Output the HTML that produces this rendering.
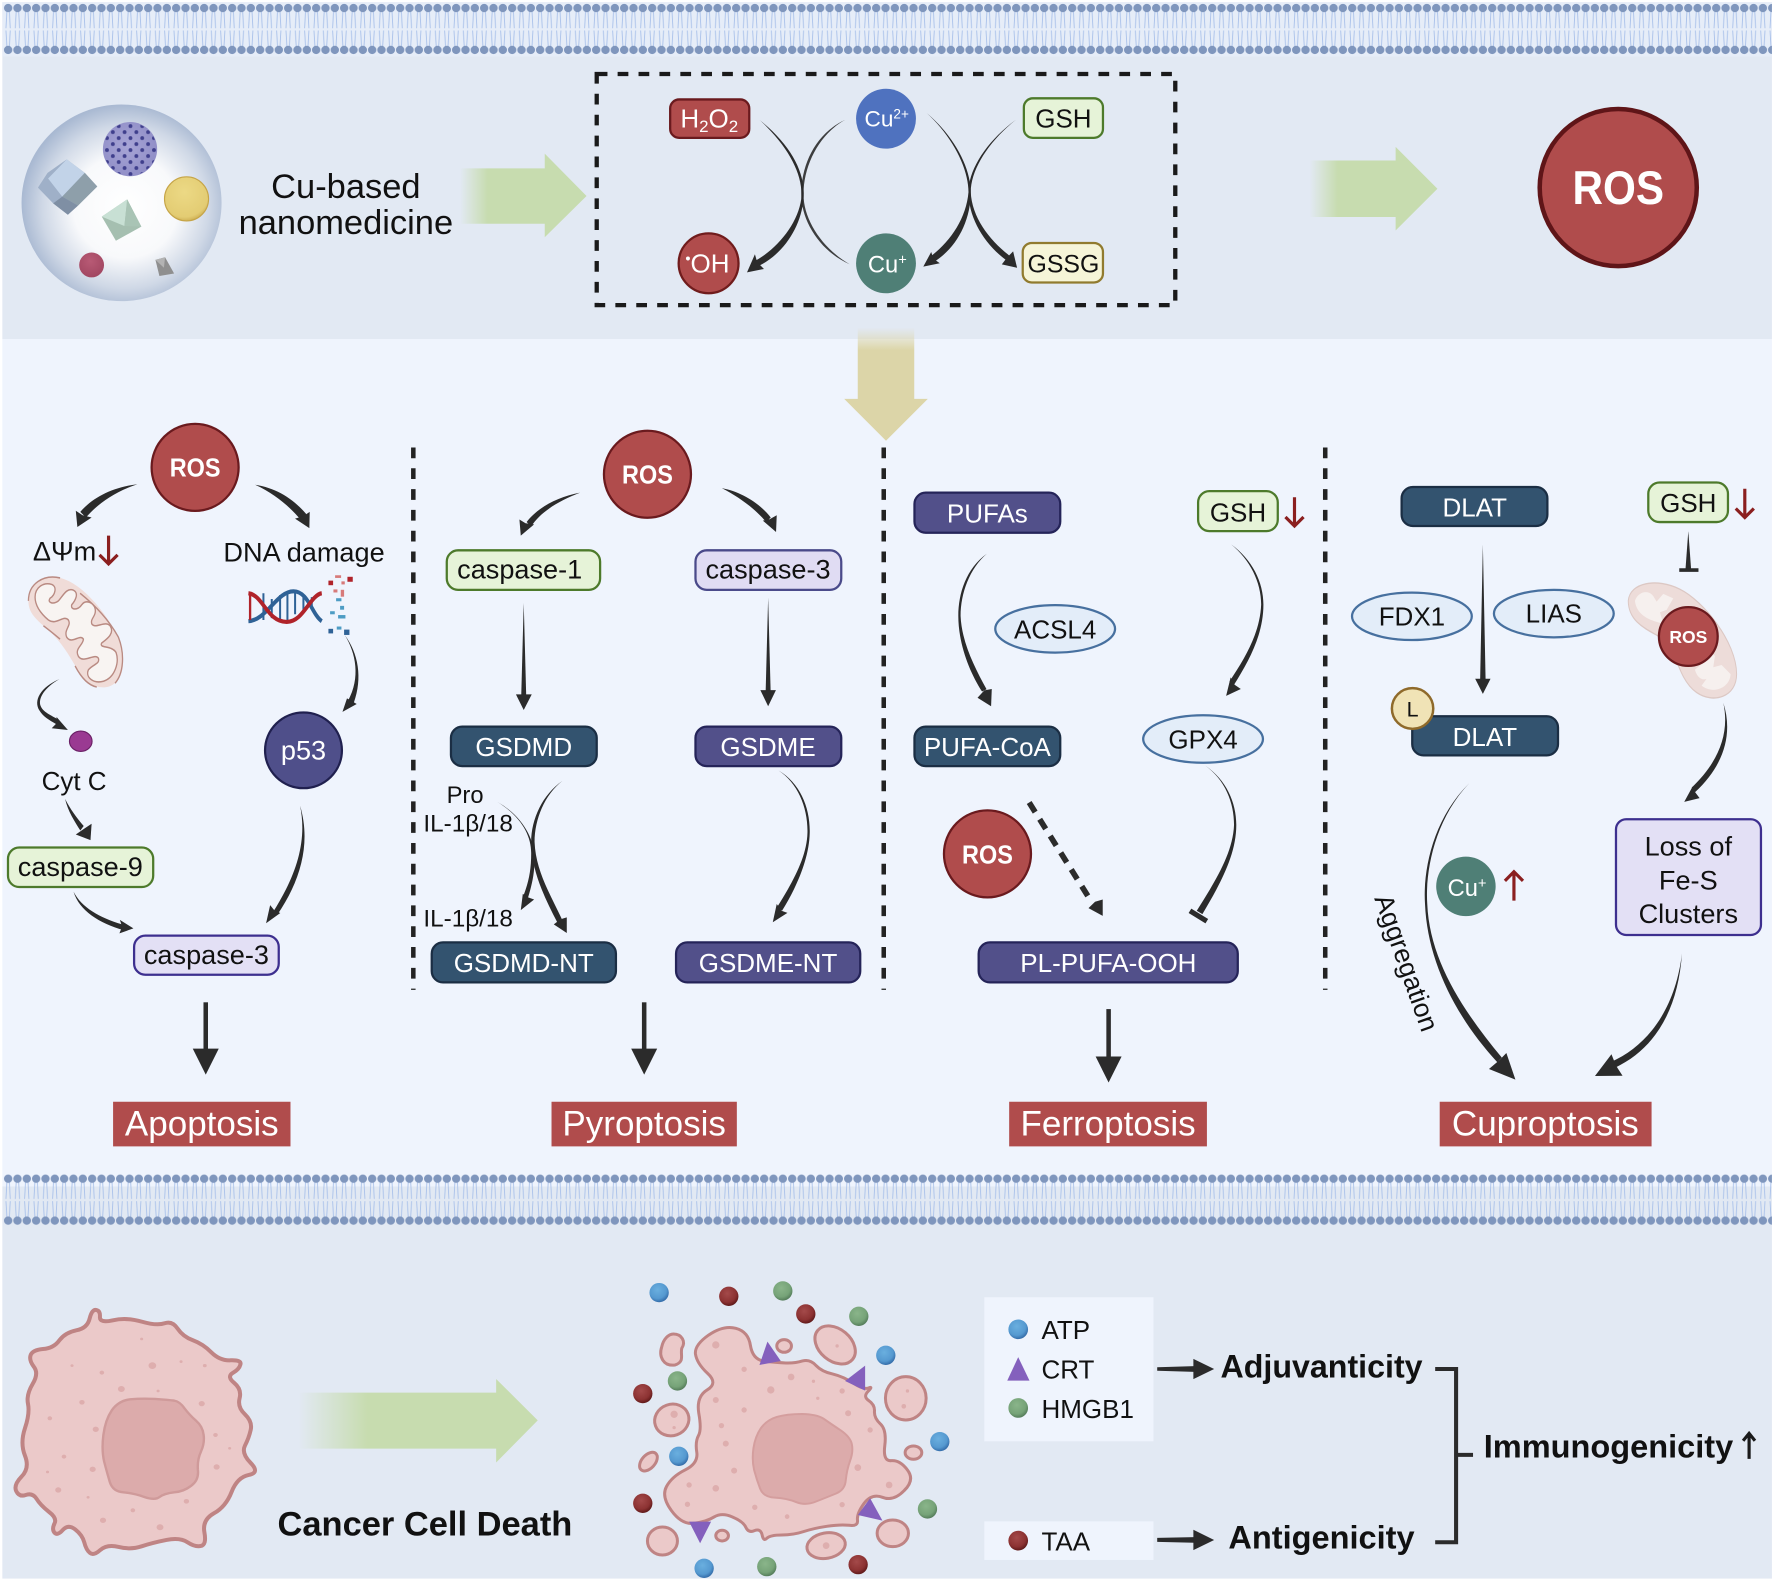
<!DOCTYPE html>
<html>
<head>
<meta charset="utf-8">
<style>
html,body{margin:0;padding:0;background:#fff}
svg{display:block}
text{font-family:"Liberation Sans",sans-serif;fill:#111}
.m{text-anchor:middle}
.w{fill:#fff}
.b{font-weight:bold}
.a{fill:#2b2b2b}
.red{stroke:#8b1f1f;stroke-width:2.8;fill:none}
.gr{fill:#e6f3d8;stroke:#4d7a2b;stroke-width:2}
.pu{fill:#e3e0f5;stroke:#3d2f8f;stroke-width:2}
.nv{fill:#33536f;stroke:#1b2e44;stroke-width:2}
.vi{fill:#52508a;stroke:#252459;stroke-width:2}
.el{fill:#e3edf9;stroke:#47709f;stroke-width:2}
.ro{fill:#b04c4c;stroke:#6a1a1e;stroke-width:2}
.lab{fill:#b04c4c}
.cell{fill:#ebc9c9;stroke:#bf8484}
.sp{fill:#deaeae}
</style>
</head>
<body>
<svg xmlns="http://www.w3.org/2000/svg" width="1772" height="1582" viewBox="0 0 1568 1400">
<defs>
<pattern id="mem" patternUnits="userSpaceOnUse" x="3" y="0" width="8.26" height="50">
<path d="M3,10 L2.2,25 M5.2,10 L6,25 M2.2,27 L3,41 M6,27 L5.2,41" stroke="#a9c1ea" stroke-width=".8" fill="none"/>
<circle cx="4.13" cy="7.1" r="3.7" fill="#7f96bd"/>
<circle cx="4.13" cy="44.2" r="3.7" fill="#7f96bd"/>
</pattern>
<pattern id="dots" patternUnits="userSpaceOnUse" x="92" y="109" width="10.4" height="10.6">
<circle cx="2.6" cy="2.6" r="1.7" fill="#3f3f8c"/>
<circle cx="7.8" cy="7.9" r="1.7" fill="#3f3f8c"/>
</pattern>
<radialGradient id="sph" cx=".52" cy=".52" r=".52">
<stop offset="0" stop-color="#fff"/><stop offset=".5" stop-color="#f8f9fb"/><stop offset=".8" stop-color="#cfd8e6"/><stop offset="1" stop-color="#a9b9d2"/>
</radialGradient>
<linearGradient id="ga1"><stop offset="0" stop-color="#c7dcaf" stop-opacity="0"/><stop offset=".22" stop-color="#c7dcaf"/></linearGradient>
<linearGradient id="ga3"><stop offset="0" stop-color="#c7dcaf" stop-opacity="0"/><stop offset=".29" stop-color="#c7dcaf"/></linearGradient>
<linearGradient id="ya" x1="0" y1="0" x2="0" y2="1"><stop offset="0" stop-color="#dcd5a8" stop-opacity="0"/><stop offset=".2" stop-color="#dcd5a8"/></linearGradient>
<radialGradient id="bB" cx=".42" cy=".35" r=".7"><stop offset="0" stop-color="#6aafdf"/><stop offset=".65" stop-color="#5599d0"/><stop offset="1" stop-color="#2c62a0"/></radialGradient>
<radialGradient id="bR" cx=".42" cy=".35" r=".7"><stop offset="0" stop-color="#a44a4a"/><stop offset=".65" stop-color="#8c3232"/><stop offset="1" stop-color="#551414"/></radialGradient>
<radialGradient id="bG" cx=".42" cy=".35" r=".7"><stop offset="0" stop-color="#8ab58a"/><stop offset=".65" stop-color="#76a378"/><stop offset="1" stop-color="#4d7453"/></radialGradient>
<radialGradient id="ye" cx=".45" cy=".35" r=".7"><stop offset="0" stop-color="#ecd985"/><stop offset=".8" stop-color="#e3cc73"/><stop offset="1" stop-color="#c6a548"/></radialGradient>
<radialGradient id="rb" cx=".45" cy=".35" r=".7"><stop offset="0" stop-color="#b85a75"/><stop offset="1" stop-color="#a04560"/></radialGradient>
<radialGradient id="pb" cx=".45" cy=".45" r=".6"><stop offset="0" stop-color="#a7a5d6"/><stop offset="1" stop-color="#8f8dc6"/></radialGradient>
</defs>

<!-- backgrounds -->
<rect x="0" y="0" width="1568" height="1400" fill="#fff"/>
<rect x="2" y="2" width="1566" height="298" fill="#e2e9f3"/>
<rect x="2" y="2" width="1566" height="48" fill="#e6edf8"/>
<rect x="2" y="300" width="1566" height="750" fill="#eff4fd"/>
<rect x="2" y="1050" width="1566" height="347" fill="#e2e9f3"/>
<rect x="3" y="0" width="1565" height="50" fill="url(#mem)"/>
<g transform="translate(0,1036)"><rect x="3" y="0" width="1565" height="50" fill="url(#mem)"/></g>

<!-- nanoparticle -->
<ellipse cx="107.5" cy="179.5" rx="88.5" ry="87" fill="url(#sph)"/>
<circle cx="115" cy="132" r="24" fill="url(#pb)"/>
<circle cx="115" cy="132" r="23.5" fill="url(#dots)"/>
<polygon points="59,141 75,153 86,165 60,190 47,180 33.5,166 42,153" fill="#9fb0c8"/>
<polygon points="59,141 75,153 55,174 42.5,158" fill="#c2d3e8"/>
<polygon points="75,153 86,165 69,182 55,174" fill="#8e9faa"/>
<polygon points="55,174 69,182 60,190 47,180" fill="#7f8fa4"/>
<polygon points="112.5,176.4 125,200.6 102.5,213 90,191.7" fill="#a5bfb0"/>
<polygon points="112.5,176.4 110,200 90,191.7" fill="#c8e0d4"/>
<polygon points="112.5,176.4 125,200.6 110,200" fill="#a9c4b5"/>
<ellipse cx="165" cy="176" rx="19.5" ry="19.5" fill="url(#ye)" stroke="#c6a548"/>
<circle cx="81" cy="234.5" r="11" fill="url(#rb)"/>
<polygon points="146,227.7 154,242 141,244.2 137.5,230" fill="#8f8f8f"/>
<polygon points="146,227.7 145,237 137.5,230" fill="#b3b3b3"/>

<text class="m" x="306" y="175" font-size="30.5">Cu-based</text>
<text class="m" x="306" y="207" font-size="30.5">nanomedicine</text>

<polygon points="407,149 482,149 482,136 519,173.5 482,210 482,198 407,198" fill="url(#ga1)"/>
<polygon points="1159,142 1235,142 1235,130 1272,167 1235,204 1235,192 1159,192" fill="url(#ga1)"/>

<!-- dashed box -->
<rect x="528" y="65.5" width="512" height="204.5" fill="none" stroke="#1a1a1a" stroke-width="3.8" stroke-dasharray="9.5 9"/>

<rect x="593" y="88" width="70" height="34" rx="8" class="ro"/>
<text x="602" y="113" font-size="23" class="w">H<tspan font-size="15" dy="4">2</tspan><tspan dy="-4">O</tspan><tspan font-size="15" dy="4">2</tspan></text>
<circle cx="784" cy="105" r="26.5" fill="#4f72bf"/>
<text x="765" y="112" font-size="20" class="w">Cu<tspan font-size="12" dy="-7">2+</tspan></text>
<rect x="906" y="87" width="70" height="35" rx="8" class="gr"/>
<text class="m" x="941" y="113" font-size="23">GSH</text>
<circle cx="627" cy="233" r="26.5" fill="#b04c4c" stroke="#701c1c" stroke-width="2"/>
<text class="m w" x="626" y="241" font-size="23"><tspan font-size="13" dy="-8">•</tspan><tspan dy="8">OH</tspan></text>
<circle cx="784" cy="233" r="26.5" fill="#4f7f76"/>
<text class="w" x="768" y="241" font-size="21">Cu<tspan font-size="13" dy="-7">+</tspan></text>
<rect x="905" y="215" width="71" height="35" rx="8" fill="#f6f5d8" stroke="#917b2e" stroke-width="2"/>
<text class="m" x="941" y="241" font-size="22">GSSG</text>

<path class="a" d="M672,106 C702,130 713,155 711,176 C709,200 694,224 672,235 L668,231 C688,220 706,198 709,176 C711,155 698,130 672,106Z"/>
<polygon class="a" points="661,241 676,238 670,232 668,225"/>
<path class="a" opacity=".9" d="M748,106 C722,118 709,145 709,172 C709,195 725,222 752,234 C728,220 711,195 711,172 C711,145 726,118 748,106Z"/>
<path class="a" d="M820,100 C846,122 859,150 859,170 C859,196 846,220 826,232 L822,228 C840,215 855,194 857,170 C857,150 844,122 820,100Z"/>
<polygon class="a" points="817,236 831.6,233 826,229 824,223"/>
<path class="a" d="M899,106 C873,125 857,150 857,170 C857,192 870,215 890,230 L893,226 C875,212 860,192 859,170 C859,150 875,125 899,106Z"/>
<polygon class="a" points="900,237 896.5,222.5 891,228 886.5,234"/>

<circle cx="1432" cy="166" r="69.5" fill="#b04c4c" stroke="#5f1518" stroke-width="4"/>
<text class="m w b" x="1432" y="180.5" font-size="42" textLength="81" lengthAdjust="spacingAndGlyphs">ROS</text>

<!-- yellow arrow -->
<polygon points="759,290 809,290 809,353 821,353 784,390 747,353 759,353" fill="url(#ya)"/>

<!-- dividers -->
<path d="M365.7,396 V876 M782,396 V876 M1172.7,396 V876" stroke="#222" stroke-width="4" stroke-dasharray="9.5 8.92" fill="none"/>

<!-- APOPTOSIS -->
<ellipse cx="172.6" cy="413.6" rx="38.5" ry="38.5" class="ro"/>
<text class="m w b" x="172.6" y="421.7" font-size="23" textLength="45" lengthAdjust="spacingAndGlyphs">ROS</text>
<path class="a" d="M121.5,428.5 C100,431 82,440 71,453 L76,458 C86,446 102,435 121.5,428.5Z"/>
<polygon class="a" points="68.4,466.4 67,452 73,456 81,458"/>
<path class="a" d="M225.7,429 C245,432 260,442 271,455 L266,460 C256,448 243,437 225.7,429Z"/>
<polygon class="a" points="273.7,467.4 274,453 268,457 261,459"/>
<text x="29" y="496" font-size="24">ΔΨm</text>
<path class="red" d="M96,474 V499 M88,491 L96,499 L104,491"/>
<text class="m" x="269" y="497" font-size="24">DNA damage</text>

<!-- mitochondrion -->
<g transform="translate(0,354) scale(.295,.3386)">
<path d="M85,525 C85,480 130,455 180,465 C250,480 320,560 355,620 C375,665 375,720 345,740 C310,765 260,745 235,710 C210,670 180,625 130,590 C105,570 85,555 85,525Z" fill="#f0dcd8"/>
<path d="M85,525 C85,480 130,455 180,465 M240,505 C290,540 330,580 355,620 C375,665 370,715 345,740 M290,750 C260,745 240,720 225,695 M180,625 C160,610 145,600 130,590" fill="none" stroke="#b98a82" stroke-width="4"/>
<path d="M105,515 C105,490 130,475 155,482 C172,488 165,510 150,518 C140,530 160,535 175,525 C190,510 200,490 220,497 C238,505 225,525 215,535 C210,550 235,550 245,535 C258,520 280,530 285,545 C290,565 270,570 275,585 C285,600 315,575 330,590 C345,610 320,625 305,635 C295,650 335,640 348,660 C358,685 345,725 310,735 C280,742 255,725 265,705 C280,690 300,690 295,675 C285,660 250,690 235,670 C222,650 250,640 250,625 C240,610 215,640 200,620 C190,600 215,590 205,575 C190,560 170,590 145,575 C125,560 105,540 105,515Z" fill="#f8f4f2" stroke="#b98a82" stroke-width="4"/>
</g>

<!-- DNA -->
<g transform="translate(0,354) scale(.295,.3386)">
<g stroke="#2f6296" stroke-width="6">
<path d="M790,505 V575 M815,520 V570 M840,510 V575 M862,505 V575 M885,500 V560 M910,510 V550 M935,515 V545"/>
</g>
<path d="M745,578 C800,575 830,500 880,500 C925,500 935,560 965,578" stroke="#2f6296" stroke-width="11" fill="none"/>
<path d="M745,505 C790,510 800,580 860,580 C910,580 930,510 965,505" stroke="#b0232a" stroke-width="11" fill="none"/>
<path d="M750,505 V575" stroke="#b0232a" stroke-width="7"/>
<g fill="#b0232a"><rect x="985" y="472" width="14" height="12"/><rect x="1042" y="462" width="16" height="13"/></g>
<g fill="#d77a7a"><rect x="1005" y="458" width="18" height="7"/><rect x="1024" y="474" width="10" height="8"/><rect x="1000" y="495" width="12" height="8"/><rect x="1022" y="496" width="10" height="18"/></g>
<g fill="#4d9cc4"><rect x="1008" y="518" width="16" height="8"/><rect x="1020" y="538" width="12" height="10"/><rect x="990" y="552" width="14" height="8"/><rect x="1014" y="562" width="22" height="9"/><rect x="1010" y="592" width="14" height="8"/></g>
<g fill="#2f6296"><rect x="985" y="598" width="14" height="12"/><rect x="1032" y="600" width="16" height="14"/></g>
</g>

<path class="a" d="M305,562 C315,578 319,600 308,620 L313,622 C321,600 317,578 305,562Z"/>
<polygon class="a" points="303,630 315.6,623 310.5,620 307,618"/>
<ellipse cx="268.5" cy="664" rx="34" ry="33.5" fill="#4f4f8a" stroke="#20204f" stroke-width="2"/>
<text class="m w" x="268.5" y="672" font-size="24">p53</text>
<path class="a" d="M52.5,601 C36,608 29,620 35,629 C38,634 43,637 50,641 L52,637 C45,633 38,630 36,625 C33,618 40,608 52.5,601Z"/>
<polygon class="a" points="60,646 50,634.5 50,640 45.7,644.5"/>
<ellipse cx="71.4" cy="656" rx="10" ry="9" fill="#9a3a92" stroke="#6a2066"/>
<text class="m" x="65.5" y="699" font-size="23">Cyt C</text>
<path class="a" d="M57.5,707 C60,718 66,727 71,735 L74,731 C68,724 62,716 57.5,707Z"/>
<polygon class="a" points="80,743.5 81,729 75,733 67,738.5"/>
<rect x="7" y="750" width="128.5" height="35" rx="10" class="gr"/>
<text class="m" x="71" y="775" font-size="24">caspase-9</text>
<path class="a" d="M65,789 C72,803 88,812 108,818 L109,823 C88,817 70,806 65,789Z"/>
<polygon class="a" points="118,821.6 106,814 108,820 105.6,826"/>
<rect x="118.6" y="828" width="128" height="34.6" rx="10" class="pu"/>
<text class="m" x="182.6" y="853" font-size="24">caspase-3</text>
<path class="a" d="M265.5,713 C272,745 262,775 241,808 L245,810 C267,778 275,745 265.5,713Z"/>
<polygon class="a" points="235.4,817 248,808 243,806 239,801"/>

<!-- PYROPTOSIS -->
<ellipse cx="572.9" cy="419.7" rx="38.5" ry="38.5" class="ro"/>
<text class="m w b" x="572.9" y="428" font-size="23" textLength="45" lengthAdjust="spacingAndGlyphs">ROS</text>
<path class="a" d="M513.3,436 C492,440 475,450 466,462 L470,466 C478,453 495,443 513.3,436Z"/>
<polygon class="a" points="460.8,474 459.6,459.7 465,463 472.6,464"/>
<path class="a" d="M638.7,432 C655,435 672,445 682,458 L678,462 C668,450 654,440 638.7,432Z"/>
<polygon class="a" points="686.7,470.8 687.3,456 681,459.5 675,460.7"/>
<rect x="395.3" y="487" width="135.7" height="35" rx="10" class="gr"/>
<text x="404.5" y="512" font-size="24">caspase-1</text>
<rect x="615.4" y="487" width="129" height="35" rx="10" fill="#e0dcf3" stroke="#4a4a8a" stroke-width="2"/>
<text class="m" x="679.6" y="512" font-size="24">caspase-3</text>
<path class="a" d="M463.4,533.5 L465.6,616 L461.2,616Z"/>
<polygon class="a" points="463.4,628.3 456.5,614.5 470.5,614.5"/>
<path class="a" d="M679.7,529 L681.9,612 L677.5,612Z"/>
<polygon class="a" points="679.7,625 672.8,610.7 686.6,610.7"/>
<rect x="399" y="643" width="129" height="35" rx="10" class="nv"/>
<text class="m w" x="463.4" y="669" font-size="23">GSDMD</text>
<rect x="615.4" y="643" width="129" height="35" rx="10" class="vi"/>
<text class="m w" x="679.6" y="669" font-size="23">GSDME</text>
<text class="m" x="411.5" y="710.5" font-size="21">Pro</text>
<text x="374.6" y="736" font-size="21.5">IL-1β/18</text>
<text x="374.6" y="820" font-size="21.5">IL-1β/18</text>
<path class="a" d="M440,709.6 C462,722 473,742 473,760 C473,775 470,785 467,795 L463,793 C468,780 470,770 470,755 C470,738 460,722 440,709.6Z"/>
<polygon class="a" points="460.8,805.4 472.6,796 467,794 462.6,791"/>
<path class="a" d="M497.7,691 C480,703 470,725 470,745 C470,770 482,795 493,816 L497,813 C486,790 474,770 473,745 C473,725 482,703 497.7,691Z"/>
<polygon class="a" points="501.5,825.7 501.5,811.8 496,813.5 490,818"/>
<path class="a" d="M688.8,681.8 C708,693 717,715 716.5,737 C716,760 705,785 692,806 L687.5,803 C702,780 714,758 714.5,737 C715,715 706,693 688.8,681.8Z"/>
<polygon class="a" points="683.8,816.2 696.8,807.8 691.5,806 687.3,800"/>
<rect x="382" y="834" width="163" height="35.4" rx="10" class="nv"/>
<text class="m w" x="463.4" y="860" font-size="23">GSDMD-NT</text>
<rect x="598.2" y="834" width="163" height="35.4" rx="10" class="vi"/>
<text class="m w" x="679.6" y="860" font-size="23">GSDME-NT</text>

<!-- FERROPTOSIS -->
<rect x="809.2" y="436" width="129" height="35.5" rx="10" class="vi"/>
<text class="m w" x="873.7" y="462.5" font-size="23">PUFAs</text>
<rect x="1060.2" y="434.6" width="70.5" height="35.4" rx="10" class="gr"/>
<text class="m" x="1095.5" y="461.5" font-size="23">GSH</text>
<path class="red" d="M1145.5,440 V465.5 M1137.5,457.5 L1145.5,465.5 L1153.5,457.5"/>
<path class="a" d="M873.2,490 C855,503 848,525 848,545 C848,570 858,595 869,612 L873,610 C862,590 851,568 850,545 C850,525 858,503 873.2,490Z"/>
<polygon class="a" points="877,625 877.6,609.7 871,611 865,617.5"/>
<ellipse cx="933.7" cy="556.5" rx="53" ry="21" class="el"/>
<text class="m" x="933.7" y="565" font-size="23">ACSL4</text>
<path class="a" d="M1089.4,481.7 C1108,495 1118,515 1118,535 C1118,562 1105,585 1092,606 L1088,603 C1102,582 1115,560 1116,535 C1116,515 1106,495 1089.4,481.7Z"/>
<polygon class="a" points="1085,615.8 1098,609.7 1092.5,606 1089,599.5"/>
<ellipse cx="1064.6" cy="654" rx="53" ry="21" class="el"/>
<text class="m" x="1064.6" y="662.5" font-size="23">GPX4</text>
<rect x="809.2" y="643" width="129" height="35" rx="10" class="nv"/>
<text class="m w" x="873.7" y="669" font-size="23">PUFA-CoA</text>
<ellipse cx="873.8" cy="755.6" rx="38.5" ry="38.5" class="ro"/>
<text class="m w b" x="873.8" y="764" font-size="23" textLength="45" lengthAdjust="spacingAndGlyphs">ROS</text>
<path d="M910.7,710.2 L964.6,796" stroke="#2b2b2b" stroke-width="5" stroke-dasharray="10 7.5" fill="none"/>
<polygon class="a" points="975.8,810.5 975.8,796 969,798 963.2,803.7"/>
<path class="a" d="M1066.4,677.4 C1085,690 1094,710 1094,730 C1094,758 1078,785 1064,809 L1059,806 C1074,782 1091,756 1092,730 C1092,710 1084,690 1066.4,677.4Z"/>
<path d="M1053,806 L1067.9,815.2" stroke="#2b2b2b" stroke-width="4.5"/>
<rect x="866" y="834" width="229.3" height="35.4" rx="10" class="vi"/>
<text class="m w" x="980.8" y="860" font-size="23">PL-PUFA-OOH</text>

<!-- CUPROPTOSIS -->
<rect x="1240.3" y="431" width="129" height="34.5" rx="10" class="nv"/>
<text class="m w" x="1305" y="457" font-size="23">DLAT</text>
<path class="a" d="M1312.2,482 L1314.6,601 L1309.8,601Z"/>
<polygon class="a" points="1312.2,614 1305.4,600.7 1319,600.7"/>
<ellipse cx="1249.4" cy="545.4" rx="53" ry="21" class="el"/>
<text class="m" x="1249.4" y="553.5" font-size="23">FDX1</text>
<ellipse cx="1375" cy="543" rx="53" ry="21" class="el"/>
<text class="m" x="1375" y="551" font-size="23">LIAS</text>
<rect x="1458.6" y="427" width="70.5" height="35" rx="10" class="gr"/>
<text class="m" x="1494" y="453" font-size="23">GSH</text>
<path class="red" d="M1544,432.5 V458 M1536,450 L1544,458 L1552,450"/>
<path class="a" d="M1494,470 L1496.5,504 L1491.5,504Z"/>
<path d="M1486,504.5 H1503" stroke="#2b2b2b" stroke-width="3.2"/>
<g transform="translate(1168,389.4) scale(.295,.4063)">
<path d="M925,350 C930,310 1010,300 1080,325 C1150,350 1250,440 1250,510 C1250,560 1180,575 1130,550 C1090,530 1075,490 1050,445 C1020,420 925,410 925,350Z" fill="#eddcd9" stroke="#dcc8c4" stroke-width="3"/>
<path d="M945,350 C955,330 985,325 1000,340 L1010,352 L1030,335 L1060,345 L1040,370 L1020,375 L1030,400 C1000,395 950,385 945,350Z M1125,500 L1150,485 L1160,460 L1185,470 L1180,495 L1205,490 L1232,510 C1230,540 1180,555 1145,535 L1160,520 C1145,525 1130,515 1125,500Z" fill="#f6f0ee"/>
</g>
<ellipse cx="1494" cy="563.3" rx="26" ry="26" class="ro"/>
<text class="m w b" x="1494" y="569" font-size="15.5">ROS</text>
<path class="a" d="M1525,622 C1531,650 1520,675 1497,697 L1500,701 C1525,678 1534,650 1525,622Z"/>
<polygon class="a" points="1490.4,709.6 1504,706.3 1500,701 1497.8,696"/>
<rect x="1430" y="725" width="128.3" height="102.4" rx="9" class="pu"/>
<text class="m" x="1494" y="757" font-size="24">Loss of</text>
<text class="m" x="1494" y="787" font-size="24">Fe-S</text>
<text class="m" x="1494" y="817" font-size="24">Clusters</text>
<rect x="1249.7" y="633.8" width="129" height="34.7" rx="10" class="nv"/>
<text class="m w" x="1314" y="660" font-size="23">DLAT</text>
<ellipse cx="1250" cy="627" rx="18.3" ry="18" fill="#f0e3b6" stroke="#8f6a2b" stroke-width="2.2"/>
<text class="m" x="1250" y="634" font-size="19">L</text>
<path class="a" d="M1300,693.3 C1270,725 1261,770 1263,800 C1265,850 1295,895 1329,936 L1325,940 C1288,900 1263,850 1261,800 C1259,770 1268,725 1300,693.3Z"/>
<polygon class="a" points="1341,955.4 1333,931.9 1327,938 1317.6,946"/>
<circle cx="1297.2" cy="784.4" r="26.3" fill="#4f7f76"/>
<text class="w" x="1281" y="793" font-size="21">Cu<tspan font-size="13" dy="-7">+</tspan></text>
<path class="red" d="M1339.7,797 V771.5 M1331.7,779.5 L1339.7,771.5 L1347.7,779.5"/>
<text transform="translate(1216,795) rotate(70.5)" font-size="23.5">Aggregation</text>
<path class="a" d="M1488.4,843.7 C1483,890 1460,925 1425,940 L1429,945 C1465,928 1485,893 1488.4,843.7Z"/>
<polygon class="a" points="1411.4,952.2 1426,933 1430,943 1435.8,952"/>

<!-- down arrows -->
<g class="a">
<rect x="180" y="887" width="4" height="42"/><polygon points="182,951 170.5,928 193.5,928"/>
<rect x="568" y="887" width="4" height="42"/><polygon points="570,951 558.5,928 581.5,928"/>
<rect x="979" y="893" width="4" height="42"/><polygon points="981,958 969.5,935 992.5,935"/>
</g>
<rect class="lab" x="100" y="975" width="157" height="39.5"/>
<text class="m w" x="178.5" y="1005" font-size="31">Apoptosis</text>
<rect class="lab" x="488" y="975" width="164" height="39.5"/>
<text class="m w" x="570" y="1005" font-size="31">Pyroptosis</text>
<rect class="lab" x="893" y="975" width="175" height="39.5"/>
<text class="m w" x="980.5" y="1005" font-size="31">Ferroptosis</text>
<rect class="lab" x="1274" y="975" width="187.5" height="39.5"/>
<text class="m w" x="1367.5" y="1005" font-size="31">Cuproptosis</text>

<!-- Bottom: intact cell -->
<g transform="translate(0,1026.5) scale(.3386,.295)">
<path class="cell" stroke-width="4" vector-effect="non-scaling-stroke" d="M234,476 Q240,448 251,450 Q262,452 261,471 Q260,490 295,481 Q330,472 370,485 Q410,498 430,490 Q450,482 464,506 Q478,530 504,541 Q530,552 552,577 Q575,603 603,601 Q632,600 628,614 Q625,628 608,639 Q592,650 612,669 Q632,688 626,715 Q620,742 640,763 Q660,785 655,810 Q650,835 640,857 Q630,880 655,909 Q680,938 650,945 Q620,952 605,996 Q590,1040 559,1060 Q528,1080 534,1117 Q540,1155 525,1158 Q510,1162 490,1147 Q470,1132 435,1140 Q400,1148 370,1159 Q340,1170 310,1161 Q280,1152 262,1170 Q245,1188 235,1179 Q225,1170 220,1147 Q215,1125 196,1108 Q178,1092 164,1110 Q150,1128 142,1118 Q135,1108 142,1091 Q150,1075 127,1055 Q105,1035 95,1016 Q85,998 67,1005 Q50,1012 42,993 Q35,975 56,950 Q78,925 65,887 Q52,850 65,805 Q78,760 73,732 Q68,705 85,672 Q102,640 88,620 Q75,600 80,585 Q85,570 112,567 Q140,565 155,541 Q170,518 199,511 Q228,505 234,476Z"/>
<path fill="#dcabab" stroke="#cf9a9a" stroke-width="2.4" vector-effect="non-scaling-stroke" d="M270,825 Q275,780 292,751 Q310,722 340,718 Q370,715 405,717 Q440,720 455,722 Q470,725 482,745 Q495,765 512,782 Q530,800 532,825 Q535,850 525,875 Q515,900 517,930 Q520,960 500,977 Q480,995 455,997 Q430,1000 417,1011 Q405,1022 377,1011 Q350,1000 322,997 Q295,995 287,967 Q280,940 272,905 Q265,870 270,825Z"/>
<g class="sp">
<circle cx="398" cy="617" r="10"/><circle cx="317" cy="687" r="9"/><circle cx="266" cy="638" r="6"/><circle cx="188" cy="617" r="4"/><circle cx="370" cy="537" r="4"/><circle cx="473" cy="605" r="4"/><circle cx="535" cy="617" r="5"/><circle cx="413" cy="693" r="4"/><circle cx="214" cy="727" r="7"/><circle cx="130" cy="775" r="6"/><circle cx="250" cy="808" r="8"/><circle cx="527" cy="731" r="8"/><circle cx="167" cy="890" r="6"/><circle cx="242" cy="928" r="8"/><circle cx="124" cy="936" r="4"/><circle cx="152" cy="990" r="8"/><circle cx="230" cy="1012" r="4"/><circle cx="347" cy="1051" r="6"/><circle cx="269" cy="1081" r="8"/><circle cx="418" cy="1102" r="9"/><circle cx="487" cy="1024" r="7"/><circle cx="566" cy="921" r="8"/><circle cx="600" cy="865" r="4"/><circle cx="563" cy="825" r="6"/>
</g>
</g>
<polygon points="264,1232.4 439,1232.4 439,1220.3 475.8,1257 439,1294.3 439,1282 264,1282" fill="url(#ga3)"/>
<text class="b" x="245.5" y="1359" font-size="30.5">Cancer Cell Death</text>

<!-- Dying cell -->
<g transform="translate(531,1115) scale(.295)">
<g class="cell" stroke-width="9">
<path d="M326,225 Q370,195 407,205 Q445,215 451,257 Q458,300 494,304 Q530,308 557,309 Q585,310 607,303 Q630,297 647,316 Q665,335 697,342 Q730,350 760,370 Q790,390 805,384 Q820,378 804,394 Q788,410 806,422 Q825,435 823,455 Q822,475 841,492 Q860,510 854,557 Q848,605 874,602 Q900,600 922,630 Q945,660 912,692 Q880,725 847,712 Q815,700 792,730 Q770,760 772,780 Q775,800 747,796 Q720,793 680,799 Q640,805 610,815 Q580,825 545,825 Q510,825 500,835 Q490,845 486,825 Q482,805 463,812 Q445,820 437,802 Q430,785 397,771 Q365,757 342,771 Q320,785 282,790 Q245,795 214,752 Q183,710 199,680 Q215,650 255,630 Q295,610 290,577 Q285,545 295,527 Q305,510 296,460 Q288,410 321,390 Q355,370 322,340 Q290,310 286,282 Q283,255 326,225Z"/>
<path d="M220,222 C245,222 258,245 245,265 C240,285 255,305 225,315 C190,320 175,290 185,260 C190,238 205,222 220,222Z"/>
<ellipse cx="552" cy="258" rx="22" ry="19"/>
<ellipse cx="705" cy="255" rx="68" ry="48" transform="rotate(40 705 255)"/>
<ellipse cx="917" cy="415" rx="61" ry="65"/>
<ellipse cx="215" cy="480" rx="52" ry="47" transform="rotate(-20 215 480)"/>
<ellipse cx="145" cy="605" rx="33" ry="20" transform="rotate(-48 145 605)"/>
<ellipse cx="940" cy="578" rx="25" ry="20"/>
<ellipse cx="187" cy="843" rx="45" ry="42"/>
<ellipse cx="366" cy="827" rx="19" ry="16"/>
<ellipse cx="678" cy="857" rx="58" ry="38" transform="rotate(-10 678 857)"/>
<ellipse cx="878" cy="820" rx="47" ry="40"/>
</g>
<path fill="#dcabab" stroke="#d49e9e" stroke-width="6" d="M460,565 Q465,530 482,505 Q500,480 530,471 Q560,462 605,462 Q650,463 670,476 Q690,490 720,510 Q750,530 755,552 Q760,575 750,602 Q740,630 737,660 Q735,690 707,701 Q680,712 647,725 Q615,738 587,726 Q560,715 525,713 Q490,712 480,686 Q470,660 462,630 Q455,600 460,565Z"/>
<g class="sp">
<circle cx="347" cy="255" r="11"/><circle cx="432" cy="328" r="8"/><circle cx="573" cy="351" r="10"/><circle cx="640" cy="364" r="5"/><circle cx="512" cy="390" r="11"/><circle cx="347" cy="420" r="9"/><circle cx="432" cy="450" r="8"/><circle cx="653" cy="415" r="5"/><circle cx="726" cy="393" r="8"/><circle cx="744" cy="460" r="9"/><circle cx="810" cy="510" r="8"/><circle cx="364" cy="497" r="8"/><circle cx="377" cy="551" r="9"/><circle cx="402" cy="632" r="9"/><circle cx="267" cy="675" r="8"/><circle cx="347" cy="685" r="10"/><circle cx="262" cy="733" r="8"/><circle cx="464" cy="742" r="8"/><circle cx="561" cy="770" r="7"/><circle cx="726" cy="734" r="8"/><circle cx="773" cy="623" r="10"/><circle cx="867" cy="675" r="10"/><circle cx="711" cy="258" r="5"/><circle cx="922" cy="393" r="5"/><circle cx="911" cy="439" r="7"/><circle cx="222" cy="463" r="11"/><circle cx="222" cy="503" r="5"/><circle cx="678" cy="857" r="10"/>
</g>
<g fill="#8460bd">
<polygon points="502,245 478,315 542,303"/>
<polygon points="795,317 735,363 795,392"/>
<polygon points="810,715 773,765 847,782"/>
<polygon points="267,785 333,785 300,850"/>
</g>
<g fill="url(#bB)"><circle cx="177" cy="98" r="29"/><circle cx="857" cy="286" r="29"/><circle cx="1019" cy="545" r="29"/><circle cx="236" cy="589" r="29"/><circle cx="312" cy="925" r="29"/></g>
<g fill="url(#bR)"><circle cx="386" cy="109" r="29"/><circle cx="617" cy="162" r="29"/><circle cx="128" cy="401" r="29"/><circle cx="128" cy="730" r="29"/><circle cx="774" cy="914" r="29"/></g>
<g fill="url(#bG)"><circle cx="548" cy="93" r="29"/><circle cx="776" cy="169" r="29"/><circle cx="232" cy="363" r="29"/><circle cx="982" cy="747" r="29"/><circle cx="500" cy="920" r="29"/></g>
</g>

<!-- legend -->
<rect x="871" y="1148" width="149.7" height="127.5" fill="#eff4fd"/>
<rect x="871" y="1346.3" width="149.7" height="34.2" fill="#eff4fd"/>
<circle cx="901" cy="1176.4" r="8.7" fill="url(#bB)"/>
<polygon points="901,1201 891.3,1221.8 911,1221.8" fill="#8460bd"/>
<circle cx="901" cy="1246" r="8.7" fill="url(#bG)"/>
<circle cx="901" cy="1363.4" r="8.7" fill="url(#bR)"/>
<text x="921.6" y="1185" font-size="23">ATP</text>
<text x="921.6" y="1220" font-size="23">CRT</text>
<text x="921.6" y="1255" font-size="23">HMGB1</text>
<text x="921.6" y="1372" font-size="23">TAA</text>
<path class="a" d="M1024,1210 L1057,1209 L1057,1214 L1024,1213Z"/>
<polygon class="a" points="1074.4,1211.5 1056,1202.5 1056,1220.5"/>
<path class="a" d="M1024,1361 L1057,1360.3 L1057,1365.3 L1024,1364.5Z"/>
<polygon class="a" points="1074.4,1362.8 1056,1353.8 1056,1371.8"/>
<text class="b" x="1080" y="1219" font-size="28.5">Adjuvanticity</text>
<text class="b" x="1087" y="1370.5" font-size="28.8">Antigenicity</text>
<path d="M1270,1211.5 H1288.5 V1364.8 H1270 M1288.5,1287.5 H1303.5" fill="none" stroke="#2b2b2b" stroke-width="3.6"/>
<text class="b" x="1313" y="1290" font-size="28.8">Immunogenicity</text>
<path d="M1547.8,1291 V1269 M1542.5,1275 L1547.8,1268.5 L1553,1275" fill="none" stroke="#1a1a1a" stroke-width="2.8"/>
</svg>
</body>
</html>
